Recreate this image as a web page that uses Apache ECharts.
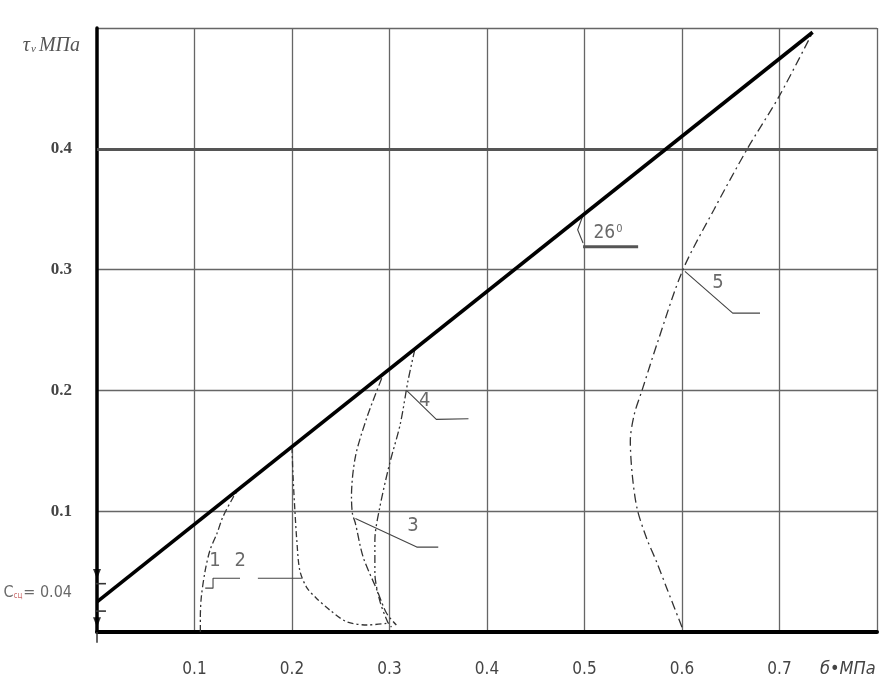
<!DOCTYPE html>
<html>
<head>
<meta charset="utf-8">
<script src="https://cdn.jsdelivr.net/npm/echarts@6/dist/echarts.min.js"></script>
<style>html,body{margin:0;padding:0;background:#fff;}#c{width:885px;height:684px;}</style>
</head>
<body>
<div id="c"></div>
<script>
// ---- tick labels ----
const xTickLabels = ['0.1', '0.2', '0.3', '0.4', '0.5', '0.6', '0.7'];
const yTickLabels = ['0.1', '0.2', '0.3', '0.4'];
const xAxisTitle = 'б•МПа';
const cLabelValue = 0.04;

// ---- series values (x = σ, y = τ) ----
const mainLine = [[0, 0.025], [0.734, 0.4965]];
const curve1 = [[0.106, 0.0], [0.106, 0.012], [0.107, 0.029], [0.111, 0.051], [0.116, 0.068], [0.123, 0.0815], [0.129, 0.095], [0.140, 0.112], [0.145, 0.118]];
const curve2 = [[0.2, 0.153], [0.201, 0.13], [0.203, 0.1], [0.205, 0.075], [0.208, 0.051], [0.215, 0.037], [0.225, 0.028], [0.239, 0.018], [0.256, 0.0085], [0.277, 0.0058], [0.299, 0.0074]];
const curve3 = [[0.292, 0.21], [0.277, 0.178], [0.265, 0.145], [0.261, 0.112], [0.262, 0.098], [0.265, 0.09], [0.273, 0.062], [0.287, 0.035], [0.297, 0.0155], [0.307, 0.0058]];
const curve4 = [[0.326, 0.234], [0.319, 0.208], [0.311, 0.172], [0.300, 0.139], [0.290, 0.103], [0.285, 0.076], [0.285, 0.049], [0.290, 0.026], [0.298, 0.0085], [0.302, 0.004]];
const curve5 = [[0.600, 0.004], [0.585, 0.035], [0.574, 0.058], [0.564, 0.077], [0.554, 0.102], [0.549, 0.13], [0.547, 0.158], [0.551, 0.18], [0.559, 0.2], [0.575, 0.24], [0.601, 0.30], [0.633, 0.35], [0.667, 0.40], [0.700, 0.444], [0.734, 0.4965]];

// ---- leader lines and annotation texts ----
const leader1 = [[0.111, 0.0363], [0.119, 0.0363], [0.119, 0.0445], [0.1467, 0.0445]];
const leader2 = [[0.165, 0.0445], [0.210, 0.0445]];
const leader3 = [[0.265, 0.094], [0.328, 0.0703], [0.350, 0.0703]];
const leader4 = [[0.318, 0.1996], [0.348, 0.176], [0.381, 0.1765]];
const leader5 = [[0.603, 0.2986], [0.652, 0.264], [0.680, 0.264]];
const angleArc = [[0.4985, 0.345], [0.493, 0.333], [0.4985, 0.322]];
const angleBase = [[0.4985, 0.319], [0.555, 0.319]];
const cTick1 = [[-0.0092, 0.04], [0.0092, 0.04]];
const cTick2 = [[-0.0092, 0.0173], [0.0092, 0.0173]];
const axisStub = [[0, 0], [0, -0.009]];
const arrows = [[0, 0.048], [0, 0.008]];
const curveLabels = [[0.121, 0.059, '1'], [0.147, 0.059, '2'], [0.324, 0.088, '3'], [0.336, 0.191, '4'], [0.637, 0.2887, '5']];
const angleLabel = [[0.524, 0.330, '26']];
const cLabel = [[0, cLabelValue]];

const chart = echarts.init(document.getElementById('c'), null, {renderer: 'canvas'});
const curveStyle = (type) => ({color: '#333', width: 1.3, type: type});
const leaderSeries = (d, w, col) => ({
  type: 'line', data: d, symbol: 'none', silent: true, clip: false,
  lineStyle: {color: col || '#444', width: w || 1.1}, z: 4
});
const narrow = "'Liberation Sans Narrow', 'DejaVu Sans Condensed', 'Liberation Sans', sans-serif";
const serif = "'Liberation Serif', 'DejaVu Serif', serif";

chart.setOption({
  animation: false,
  backgroundColor: '#fff',
  grid: {left: 97, right: 8, top: 28, bottom: 52, containLabel: false},
  xAxis: {
    type: 'value', min: 0, max: 0.8, interval: 0.1,
    name: xAxisTitle, nameLocation: 'end', nameGap: -57,
    nameTextStyle: {fontFamily: narrow, fontStyle: 'italic', fontSize: 18, color: '#444', align: 'left', verticalAlign: 'top', padding: [28, 0, 0, 0]},
    axisLine: {show: true, onZero: false, lineStyle: {color: '#000', width: 4}},
    axisTick: {show: false},
    axisLabel: {
      margin: 29, fontFamily: narrow, fontSize: 17, color: '#444',
      formatter: (v) => { const i = Math.round(v * 10) - 1; return (i >= 0 && i < xTickLabels.length) ? xTickLabels[i] : ''; }
    },
    splitLine: {show: true, showMinLine: false, showMaxLine: true, lineStyle: {color: '#666', width: 1.3}}
  },
  yAxis: {
    type: 'value', min: 0, max: 0.5, interval: 0.1,
    name: '{t|τ}{s|v}{m|МПа}', nameLocation: 'end', nameGap: -28,
    nameTextStyle: {
      align: 'right', verticalAlign: 'bottom', padding: [0, 17, 0, 0],
      rich: {
        t: {fontFamily: serif, fontStyle: 'italic', fontSize: 20, color: '#555'},
        s: {fontFamily: serif, fontStyle: 'italic', fontSize: 11, color: '#555', padding: [7, 3, 0, 1]},
        m: {fontFamily: serif, fontStyle: 'italic', fontSize: 20, color: '#555'}
      }
    },
    axisLine: {show: true, onZero: false, lineStyle: {color: '#000', width: 3.5}},
    axisTick: {show: false},
    axisLabel: {
      margin: 25, fontFamily: serif, fontWeight: 'bold', fontSize: 17, color: '#444',
      formatter: (v) => { const i = Math.round(v * 10) - 1; return (i >= 0 && i < yTickLabels.length) ? yTickLabels[i] : ''; }
    },
    splitLine: {show: true, showMinLine: false, showMaxLine: true, lineStyle: {color: '#666', width: 1.3}}
  },
  series: [
    {
      type: 'line', data: [], symbol: 'none', silent: true,
      markLine: {silent: true, symbol: 'none', label: {show: false}, lineStyle: {color: '#555', width: 3.2, type: 'solid'}, data: [{yAxis: 0.4}]}
    },
    {type: 'line', data: curve1, symbol: 'none', smooth: 0.3, silent: true, lineStyle: curveStyle([7, 3, 2, 3]), z: 3},
    {type: 'line', data: curve2, symbol: 'none', smooth: 0.3, silent: true, lineStyle: curveStyle([6, 3, 2, 3]), z: 3},
    {type: 'line', data: curve3, symbol: 'none', smooth: 0.3, silent: true, lineStyle: curveStyle([8, 3, 2, 3]), z: 3},
    {type: 'line', data: curve4, symbol: 'none', smooth: 0.3, silent: true, lineStyle: curveStyle([8, 3, 2, 3, 2, 3]), z: 3},
    {type: 'line', data: curve5, symbol: 'none', smooth: 0.3, silent: true, lineStyle: curveStyle([9, 4, 2, 4]), z: 3},
    {type: 'line', data: mainLine, symbol: 'none', silent: true, lineStyle: {color: '#000', width: 3.6}, z: 5},
    leaderSeries(leader1), leaderSeries(leader2), leaderSeries(leader3), leaderSeries(leader4), leaderSeries(leader5),
    leaderSeries(angleArc, 1.1), leaderSeries(angleBase, 3, '#555'),
    leaderSeries(cTick1, 1.6, '#333'), leaderSeries(cTick2, 1.6, '#333'),
    leaderSeries(axisStub, 1.5, '#333'),
    {
      type: 'scatter', data: arrows, symbol: 'triangle', symbolRotate: 180, symbolSize: [8, 10],
      itemStyle: {color: '#000'}, clip: false, silent: true, z: 6
    },
    {
      type: 'scatter', data: curveLabels, symbolSize: 0, silent: true, clip: false,
      label: {show: true, position: 'inside', formatter: (p) => p.data[2], fontFamily: narrow, fontSize: 20, color: '#444'}
    },
    {
      type: 'scatter', data: angleLabel, symbolSize: 0, silent: true, clip: false,
      label: {
        show: true, position: 'inside', formatter: (p) => '{a|' + p.data[2] + '}{b|0}',
        rich: {
          a: {fontFamily: narrow, fontSize: 19, color: '#444'},
          b: {fontFamily: narrow, fontSize: 11, color: '#444', verticalAlign: 'top', padding: [0, 0, 9, 1]}
        }
      }
    },
    {
      type: 'scatter', data: cLabel, symbolSize: 0, silent: true, clip: false,
      label: {
        show: true, position: 'left', distance: 25, offset: [0, 9],
        formatter: () => '{c|C}{s|сц}{e|= ' + cLabelValue.toFixed(2) + '}',
        rich: {
          c: {fontFamily: narrow, fontSize: 16, color: '#444'},
          s: {fontFamily: narrow, fontSize: 8, color: '#b44', padding: [6, 1, 0, 0]},
          e: {fontFamily: narrow, fontSize: 16, color: '#444'}
        }
      }
    }
  ]
});
</script>
</body>
</html>
